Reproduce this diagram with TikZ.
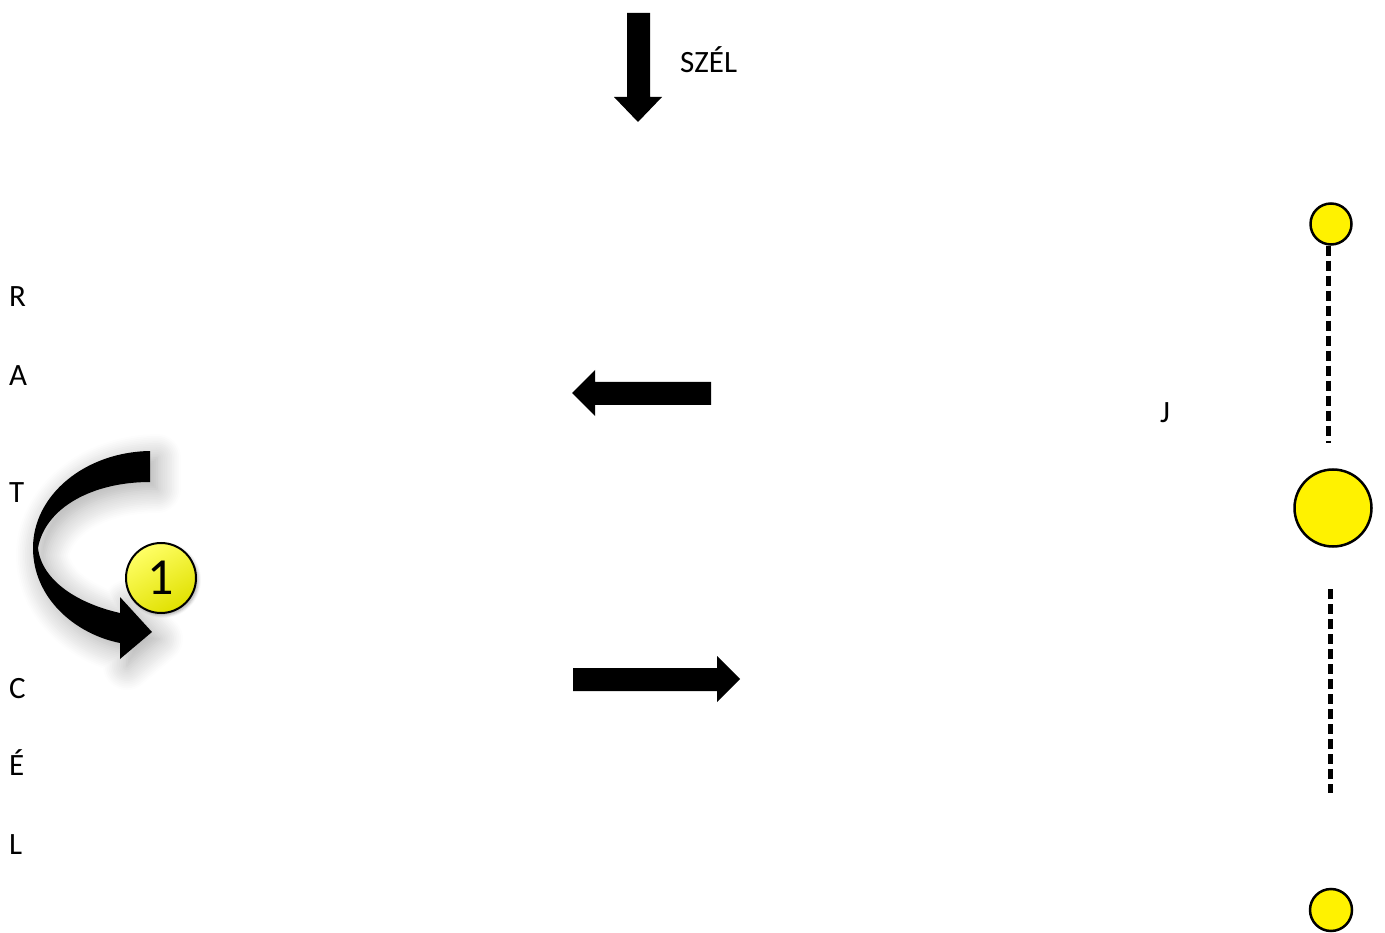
\documentclass[tikz,border=0pt]{standalone}
\usepackage{fontspec}
\setmainfont{Carlito}
\usetikzlibrary{shadows.blur}

\begin{document}
\begin{tikzpicture}[x=1pt,y=-1pt]
\tikzstyle{every node}+=[inner sep=0pt]
\tikzstyle{lbl}=[font=\fontsize{31}{36}\selectfont,anchor=base west]
\tikzstyle{dot}=[circle,draw=black,line width=2.5pt,fill=yellow]
\tikzstyle{wireline}=[black,line width=5pt,dash pattern=on 10pt off 5pt]
\useasboundingbox (0,0) rectangle (1385,933);
% side letters
\node [lbl] (r) at (9,307) {R};
\node [lbl] (a) at (9,385) {A};
\node [lbl] (t) at (9,502) {T};
\node [lbl] (c) at (9,698) {C};
\node [lbl] (e) at (9,775) {É};
\node [lbl] (l) at (9,854) {L};
\node [lbl] (szel) at (680,73) {SZÉL};
\node [lbl] (j) at (1160,423) {J};
% wind arrow
\fill [black] (627,13) -- (650,13) -- (650,97) -- (662,97) -- (638,122) -- (614,97) -- (627,97) -- cycle;
% left and right arrows
\fill [black] (711,382) -- (595,382) -- (595,370) -- (572,393) -- (595,416) -- (595,405) -- (711,405) -- cycle;
\fill [black] (573,668) -- (717,668) -- (717,656) -- (740,679) -- (717,702) -- (717,691) -- (573,691) -- cycle;
% turn arrow
\fill [black,blur shadow={shadow xshift=7pt,shadow yshift=-7pt,shadow blur radius=24pt,shadow blur steps=14,shadow opacity=35}]
  (150,451) .. controls (85,452) and (33,495) .. (33,548)
  .. controls (33,598) and (75,634) .. (120,643) -- (120,659) -- (152,632) -- (120,597) -- (120,613)
  .. controls (80,604) and (42,582) .. (38,548)
  .. controls (45,508) and (92,482) .. (150,482) -- cycle;
\node [circle,draw=black,line width=2pt,minimum size=70pt,top color=yellow!60!white,bottom color=yellow!88!black,shading angle=30,
  blur shadow={shadow xshift=2pt,shadow yshift=-2pt,shadow blur radius=3pt,shadow opacity=35},
  font=\fontsize{52}{60}\selectfont] (one) at (161,578) {1};
% balls
\node [dot,minimum size=41pt] (top) at (1331,224) {};
\node [dot,minimum size=77pt] (mid) at (1333,508) {};
\node [dot,minimum size=42pt] (bot) at (1331,910) {};
\coordinate (w1) at (1328,443);
\coordinate (w2) at (1330,589);
\coordinate (w3) at (1330,793);
\draw [wireline] (top.south -| w1) -- (w1);
\draw [wireline] (w2) -- (w3);
\end{tikzpicture}
\end{document}
